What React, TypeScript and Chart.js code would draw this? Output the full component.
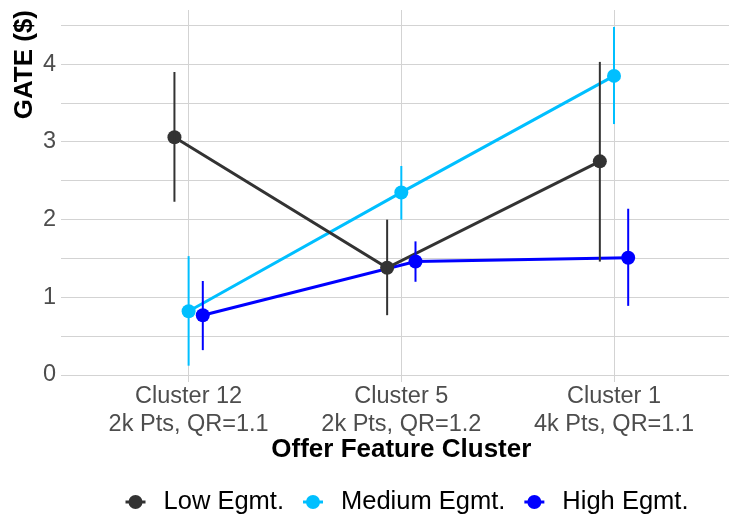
import React, { useEffect, useRef } from 'react';
import { Chart, registerables } from 'chart.js';

Chart.register(...registerables);

const categories = ['Cluster 12', 'Cluster 5', 'Cluster 1'];
const subLabels = ['2k Pts, QR=1.1', '2k Pts, QR=1.2', '4k Pts, QR=1.1'];
const seriesNames = ['Low Egmt.', 'Medium Egmt.', 'High Egmt.'];
const seriesColors = ['#333333', '#00BFFF', '#0000FF'];
const xTitle = 'Offer Feature Cluster';
const yTitle = 'GATE ($)';

const lowValues = [3.06, 1.38, 2.75];
const lowLower = [2.23, 0.77, 1.46];
const lowUpper = [3.9, 2.0, 4.03];

const mediumValues = [0.82, 2.35, 3.85];
const mediumLower = [0.12, 2.0, 3.23];
const mediumUpper = [1.53, 2.69, 4.48];

const highValues = [0.77, 1.46, 1.51];
const highLower = [0.32, 1.2, 0.89];
const highUpper = [1.21, 1.72, 2.14];

const yTickValues = [0, 0.5, 1, 1.5, 2, 2.5, 3, 3.5, 4, 4.5];

const seriesValues = [lowValues, mediumValues, highValues];
const seriesLower = [lowLower, mediumLower, highLower];
const seriesUpper = [lowUpper, mediumUpper, highUpper];

const DODGE = 0.2;
const dodgeOffset = (s: number) => (s - 1) * (DODGE / 3);

const FONT = "'Liberation Sans', Arial, Helvetica, sans-serif";

const errorBarPlugin = {
  id: 'errorBars',
  afterDatasetsDraw(chart: any) {
    const { ctx, scales } = chart;
    const xs = scales.x;
    const ys = scales.y;
    ctx.save();
    seriesValues.forEach((vals, s) => {
      ctx.strokeStyle = seriesColors[s];
      ctx.lineWidth = 2;
      vals.forEach((_, i) => {
        const x = xs.getPixelForValue(i + dodgeOffset(s));
        const y1 = ys.getPixelForValue(seriesLower[s][i]);
        const y2 = ys.getPixelForValue(seriesUpper[s][i]);
        ctx.beginPath();
        ctx.moveTo(x, y1);
        ctx.lineTo(x, y2);
        ctx.stroke();
      });
    });
    ctx.restore();
  },
};

const xTitlePlugin = {
  id: 'xTitle',
  afterDraw(chart: any) {
    const { ctx, scales } = chart;
    // panel centre of the (wider) ggplot-style panel: the middle category
    const cx = scales.x.getPixelForValue((categories.length - 1) / 2);
    ctx.save();
    ctx.font = `bold 26px ${FONT}`;
    ctx.fillStyle = '#000000';
    ctx.textAlign = 'center';
    ctx.textBaseline = 'middle';
    ctx.fillText(xTitle, cx, 450);
    ctx.restore();
  },
};

const legendPlugin = {
  id: 'customLegend',
  afterDraw(chart: any) {
    const { ctx } = chart;
    ctx.save();
    ctx.font = `25.5px ${FONT}`;
    const markerToText = 28;
    const textToNext = 29;
    const widths = seriesNames.map((n) => ctx.measureText(n).width);
    let total = 0;
    widths.forEach((w, i) => {
      total += 10 + markerToText + w + (i < widths.length - 1 ? textToNext - 10 : 0);
    });
    const centerX = 407;
    let x = centerX - total / 2;
    const y = 502;
    seriesNames.forEach((name, i) => {
      const cx = x + 10;
      ctx.strokeStyle = seriesColors[i];
      ctx.fillStyle = seriesColors[i];
      ctx.lineWidth = 3;
      ctx.beginPath();
      ctx.moveTo(cx - 10, y);
      ctx.lineTo(cx + 10, y);
      ctx.stroke();
      ctx.beginPath();
      ctx.arc(cx, y, 7, 0, Math.PI * 2);
      ctx.fill();
      ctx.fillStyle = '#000000';
      ctx.textAlign = 'left';
      ctx.textBaseline = 'middle';
      ctx.fillText(name, cx + markerToText, y);
      x = cx + markerToText + widths[i] + textToNext - 10;
    });
    ctx.restore();
  },
};

const zeroPadding = (scale: any) => {
  scale.paddingTop = 0;
  scale.paddingBottom = 0;
  scale.paddingLeft = 0;
  scale.paddingRight = 0;
};

export default function App() {
  const canvasRef = useRef<HTMLCanvasElement | null>(null);

  useEffect(() => {
    if (!canvasRef.current) return;
    const lineSets = seriesValues.map((vals, s) => ({
      label: seriesNames[s],
      data: vals.map((v, i) => ({ x: i + dodgeOffset(s), y: v })),
      borderColor: seriesColors[s],
      backgroundColor: seriesColors[s],
      borderWidth: 3,
      pointRadius: 0,
      tension: 0,
      order: 2,
      clip: false as any,
    }));
    const pointSets = seriesValues.map((vals, s) => ({
      label: seriesNames[s] + ' pts',
      data: vals.map((v, i) => ({ x: i + dodgeOffset(s), y: v })),
      borderColor: seriesColors[s],
      backgroundColor: seriesColors[s],
      showLine: false,
      pointRadius: 7,
      pointBorderWidth: 0,
      pointBackgroundColor: seriesColors[s],
      order: 1,
      clip: false as any,
    }));

    const chart = new Chart(canvasRef.current, {
      type: 'line',
      data: { datasets: [...lineSets, ...pointSets.reverse()] as any },
      options: {
        animation: false,
        responsive: false,
        layout: { autoPadding: false, padding: { top: 10, left: 0, right: 0, bottom: 53 } },
        plugins: { legend: { display: false }, tooltip: { enabled: false } },
        scales: {
          x: {
            type: 'linear',
            min: -0.6,
            max: 2.5406,
            afterBuildTicks: (scale: any) => {
              scale.ticks = categories.map((_, i) => ({ value: i }));
            },
            afterFit: (scale: any) => {
              scale.height = 84;
              zeroPadding(scale);
            },
            grid: { color: '#d3d3d3', lineWidth: 1, drawTicks: false },
            border: { display: false },
            ticks: {
              autoSkip: false,
              maxRotation: 0,
              padding: 0,
              color: '#4d4d4d',
              font: { family: FONT, size: 23.5, lineHeight: 1.2 },
              callback: (v: any) => {
                const i = Math.round(Number(v));
                return [categories[i], subLabels[i]];
              },
            },
            title: { display: false },
          },
          y: {
            type: 'linear',
            min: -0.09,
            max: 4.698,
            afterBuildTicks: (scale: any) => {
              scale.ticks = yTickValues.map((v) => ({ value: v }));
            },
            afterFit: (scale: any) => {
              scale.width = 61;
              zeroPadding(scale);
            },
            grid: { color: '#d3d3d3', lineWidth: 1, drawTicks: false },
            border: { display: false },
            ticks: {
              padding: 5,
              color: '#4d4d4d',
              font: { family: FONT, size: 23.5 },
              callback: (v: any) => (Number.isInteger(Number(v)) ? String(v) : ''),
            },
            title: {
              display: true,
              text: yTitle,
              align: 'end',
              color: '#000000',
              font: { family: FONT, size: 26, weight: 'bold', lineHeight: 1.2 },
              padding: { top: 9.4, bottom: 0 },
            },
          },
        },
      },
      plugins: [errorBarPlugin, xTitlePlugin, legendPlugin],
    });
    return () => chart.destroy();
  }, []);

  return (
    <div style={{ position: 'fixed', left: 0, top: 0, width: 729, height: 519, background: '#ffffff' }}>
      <canvas ref={canvasRef} width={729} height={519} style={{ display: 'block' }} />
    </div>
  );
}
